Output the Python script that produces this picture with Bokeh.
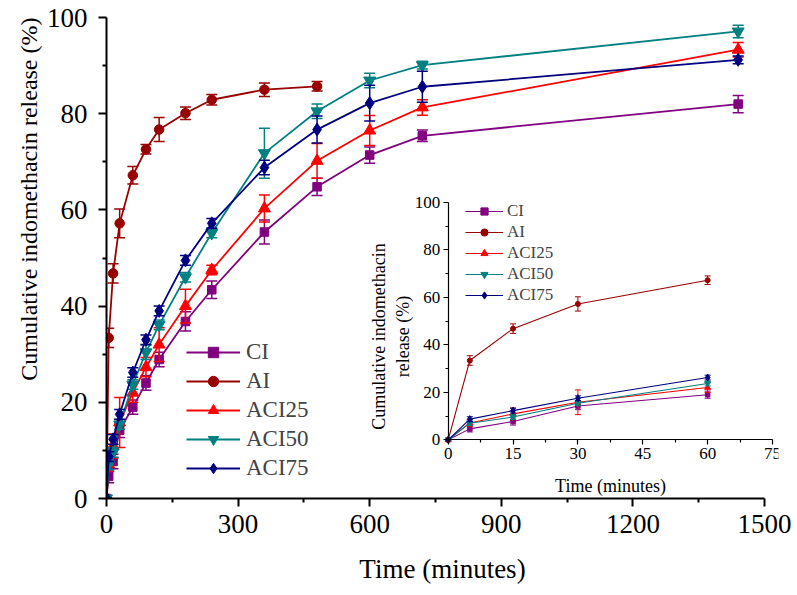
from bokeh.plotting import figure
from bokeh.models import (Range1d, LinearAxis, FixedTicker, Legend, LegendItem,
                          ColumnDataSource, Title)
from bokeh.embed import file_html
from bokeh.resources import INLINE

# ---------------- data ----------------
time_min = [0, 5, 15, 30, 60, 90, 120, 180, 240, 360, 480, 600, 720, 1440]
time_ai = [0, 5, 15, 30, 60, 90, 120, 180, 240, 360, 480]

ci_mean = [0, 4.6, 7.7, 14.2, 19.0, 24.0, 28.9, 36.8, 43.4, 55.4, 64.8, 71.4, 75.4, 82.0]
ci_err = [0, 1.3, 1.5, 1.5, 1.5, 1.5, 1.5, 2.0, 1.8, 2.5, 1.8, 1.7, 1.2, 1.8]

ai_mean = [0, 33.4, 46.8, 57.2, 67.2, 72.6, 76.7, 80.1, 82.9, 85.0, 85.7]
ai_err = [0, 2.0, 2.0, 3.0, 1.8, 1.0, 2.5, 1.3, 1.1, 1.4, 1.0]

aci25_mean = [0, 7.1, 10.9, 15.8, 22.0, 27.3, 32.0, 40.0, 47.5, 60.3, 70.2, 76.5, 81.3, 93.3]
aci25_err = [0, 1.5, 2.5, 5.2, 2.0, 2.0, 3.5, 3.5, 1.0, 2.8, 3.6, 3.1, 1.6, 1.5]

aci50_mean = [0, 7.0, 9.6, 15.4, 23.7, 30.4, 36.1, 46.0, 55.2, 71.8, 80.5, 86.9, 90.1, 97.1]
aci50_err = [0, 1.0, 1.0, 1.0, 1.0, 1.5, 1.0, 1.0, 1.0, 5.2, 1.5, 1.5, 0.8, 1.3]

aci75_mean = [0, 8.7, 12.3, 17.5, 26.2, 33.0, 39.0, 49.5, 57.2, 68.8, 76.7, 82.2, 85.6, 91.2]
aci75_err = [0, 1.0, 1.0, 1.0, 1.0, 1.0, 1.0, 1.0, 1.0, 1.5, 2.8, 3.7, 3.2, 0.8]

series_labels = ["CI", "AI", "ACI25", "ACI50", "ACI75"]

main_x_ticks = [0, 300, 600, 900, 1200, 1500]
main_y_ticks = [0, 20, 40, 60, 80, 100]
inset_x_ticks = [0, 15, 30, 45, 60, 75]
inset_y_ticks = [0, 20, 40, 60, 80, 100]
inset_max_time = 60

# ---------------- layout constants (canvas px) ----------------
W, H = 797, 595
X0_PX, X1500_PX = 106, 764          # main x axis 0 and 1500
FRAME_L, FRAME_R, FRAME_T, FRAME_B = 106, 778, 17, 498
IN_X0, IN_X1, IN_Y0, IN_Y1 = 447.7, 772.0, 439.3, 201.8
INSET_YTITLE_CENTER = 336.0          # vertical centre of the inset y title

kmx = (X1500_PX - X0_PX) / main_x_ticks[-1]
main_x_range = Range1d(0, (FRAME_R - X0_PX) / kmx)

kx = (IN_X1 - IN_X0) / inset_x_ticks[-1]
ky = (IN_Y0 - IN_Y1) / inset_y_ticks[-1]
inx = Range1d(-(IN_X0 - FRAME_L) / kx, inset_x_ticks[-1] + (FRAME_R - IN_X1) / kx)
iny = Range1d(-(FRAME_B - IN_Y0) / ky, inset_y_ticks[-1] + (IN_Y1 - FRAME_T) / ky)

FONT = "Liberation Serif"


def mids(t):
    return [(a + b) / 2 for a, b in zip(t[:-1], t[1:])]


p = figure(width=W, height=H, x_range=main_x_range, y_range=Range1d(0, 100),
           output_backend="svg", toolbar_location=None,
           min_border_left=FRAME_L, min_border_right=W - FRAME_R,
           min_border_top=FRAME_T, min_border_bottom=H - FRAME_B)
p.extra_x_ranges = {"inx": inx}
p.extra_y_ranges = {"iny": iny}
p.grid.visible = False
p.outline_line_color = None
p.background_fill_color = "white"
p.border_fill_color = "white"


def style_axis(ax, fs_tick, fs_title, lw, tick_out, minor_out):
    ax.axis_line_width = lw
    ax.axis_line_color = "black"
    ax.major_tick_line_width = lw
    ax.minor_tick_line_width = lw
    ax.major_tick_line_color = "black"
    ax.minor_tick_line_color = "black"
    ax.major_tick_in = 0
    ax.major_tick_out = tick_out
    ax.minor_tick_in = 0
    ax.minor_tick_out = minor_out
    ax.major_label_text_font = FONT
    ax.major_label_text_font_size = fs_tick
    ax.major_label_text_color = "black"
    ax.axis_label_text_font = FONT
    ax.axis_label_text_font_size = fs_title
    ax.axis_label_text_font_style = "normal"
    ax.axis_label_text_color = "black"


def title_only(ax):
    ax.axis_line_color = None
    ax.major_tick_line_color = None
    ax.minor_tick_line_color = None
    ax.major_tick_in = 0
    ax.major_tick_out = 0
    ax.minor_tick_in = 0
    ax.minor_tick_out = 0


xa = p.xaxis[0]
ya = p.yaxis[0]
xa.bounds = (main_x_ticks[0], main_x_ticks[-1])
xa.ticker = FixedTicker(ticks=main_x_ticks, minor_ticks=mids(main_x_ticks))
ya.ticker = FixedTicker(ticks=main_y_ticks, minor_ticks=mids(main_y_ticks))
style_axis(xa, "27px", "27px", 2, 8, 4)
style_axis(ya, "27px", "24px", 2, 8, 4)
xa.axis_label = "Time (minutes)"
xa.major_label_standoff = 8
xa.axis_label_standoff = 18
ya.major_label_standoff = 11

# main y title, as a side title aligned to the top end of the y axis
ytitle = Title(text="Cumulative indomethacin release (%)", align="right",
               offset=0, standoff=4,
               text_font=FONT, text_font_size="24px", text_font_style="normal",
               text_color="black")
p.add_layout(ytitle, "left")

# inset axes (drawn inside the frame at fixed locations)
ix = LinearAxis(x_range_name="inx", y_range_name="iny", fixed_location=0,
                bounds=(inset_x_ticks[0], inset_x_ticks[-1]),
                ticker=FixedTicker(ticks=inset_x_ticks, minor_ticks=mids(inset_x_ticks)),
                axis_label="Time (minutes)")
iy = LinearAxis(x_range_name="inx", y_range_name="iny", fixed_location=0,
                bounds=(inset_y_ticks[0], inset_y_ticks[-1]),
                ticker=FixedTicker(ticks=inset_y_ticks, minor_ticks=mids(inset_y_ticks)))
style_axis(ix, "17px", "18px", 1.2, 5, 3)
style_axis(iy, "17px", "18px", 1.2, 5, 3)
ix.major_label_standoff = 3
ix.axis_label_standoff = 14
iy.major_label_standoff = 3
p.add_layout(ix, "below")
p.add_layout(iy, "left")

iyc = (IN_Y0 - INSET_YTITLE_CENTER) / ky
ity = LinearAxis(x_range_name="inx", y_range_name="iny", fixed_location=0,
                 bounds=(0, 2 * iyc), ticker=FixedTicker(ticks=[]),
                 axis_label="Cumulative indomethacin\nrelease (%)")
style_axis(ity, "17px", "18px", 1.2, 0, 0)
title_only(ity)
ity.axis_label_standoff = 36
p.add_layout(ity, "left")

# ---------------- series ----------------
series = [
    ("CI", time_min, ci_mean, ci_err, "#800080", "square"),
    ("AI", time_ai, ai_mean, ai_err, "#990000", "circle"),
    ("ACI25", time_min, aci25_mean, aci25_err, "#FF0000", "triangle"),
    ("ACI50", time_min, aci50_mean, aci50_err, "#008080", "inverted_triangle"),
    ("ACI75", time_min, aci75_mean, aci75_err, "#000080", "diamond"),
]
main_sizes = {"square": 8.5, "circle": 9.5, "triangle": 12, "inverted_triangle": 12, "diamond": 13}
inset_sizes = {"square": 4.5, "circle": 5, "triangle": 6, "inverted_triangle": 6, "diamond": 7}

main_items = []
inset_items = []
for name, t, v, e, col, mk in series:
    lo = [a - b for a, b in zip(v, e)]
    hi = [a + b for a, b in zip(v, e)]
    src = ColumnDataSource(dict(t=t, v=v, lo=lo, hi=hi))
    # main plot
    p.segment(x0="t", y0="lo", x1="t", y1="hi", source=src, line_color=col, line_width=1.5)
    p.scatter(x="t", y="lo", source=src, marker="dash", size=11, line_color=col, line_width=1.5)
    p.scatter(x="t", y="hi", source=src, marker="dash", size=11, line_color=col, line_width=1.5)
    lr = p.line(x="t", y="v", source=src, line_color=col, line_width=1.8)
    sr = p.scatter(x="t", y="v", source=src, marker=mk, size=main_sizes[mk],
                   fill_color=col, line_color=col)
    main_items.append(LegendItem(label=name, renderers=[lr, sr]))

    # inset (first points only)
    n = sum(1 for x in t if x <= inset_max_time)
    isrc = ColumnDataSource(dict(t=t[:n], v=v[:n], lo=lo[:n], hi=hi[:n]))
    kw = dict(x_range_name="inx", y_range_name="iny")
    p.segment(x0="t", y0="lo", x1="t", y1="hi", source=isrc, line_color=col, line_width=1, **kw)
    p.scatter(x="t", y="lo", source=isrc, marker="dash", size=6, line_color=col, line_width=1, **kw)
    p.scatter(x="t", y="hi", source=isrc, marker="dash", size=6, line_color=col, line_width=1, **kw)
    ilr = p.line(x="t", y="v", source=isrc, line_color=col, line_width=1.1, **kw)
    isr = p.scatter(x="t", y="v", source=isrc, marker=mk, size=inset_sizes[mk],
                    fill_color=col, line_color=col, **kw)
    inset_items.append(LegendItem(label=name, renderers=[ilr, isr]))

# ---------------- legends ----------------
main_leg = Legend(items=main_items, location=(186 - FRAME_L, FRAME_B - 481),
                  glyph_width=54, glyph_height=26, label_height=26, spacing=3,
                  label_standoff=6, padding=0, margin=0,
                  border_line_color=None, background_fill_alpha=0,
                  label_text_font=FONT, label_text_font_size="23px")
inset_leg = Legend(items=inset_items, location=(465 - FRAME_L, FRAME_B - 305),
                   glyph_width=38, glyph_height=18, label_height=18, spacing=1,
                   label_standoff=4, padding=0, margin=0,
                   border_line_color=None, background_fill_alpha=0,
                   label_text_font=FONT, label_text_font_size="17px")
p.add_layout(main_leg)
p.add_layout(inset_leg)

open("out.html", "w").write(file_html(p, INLINE))
